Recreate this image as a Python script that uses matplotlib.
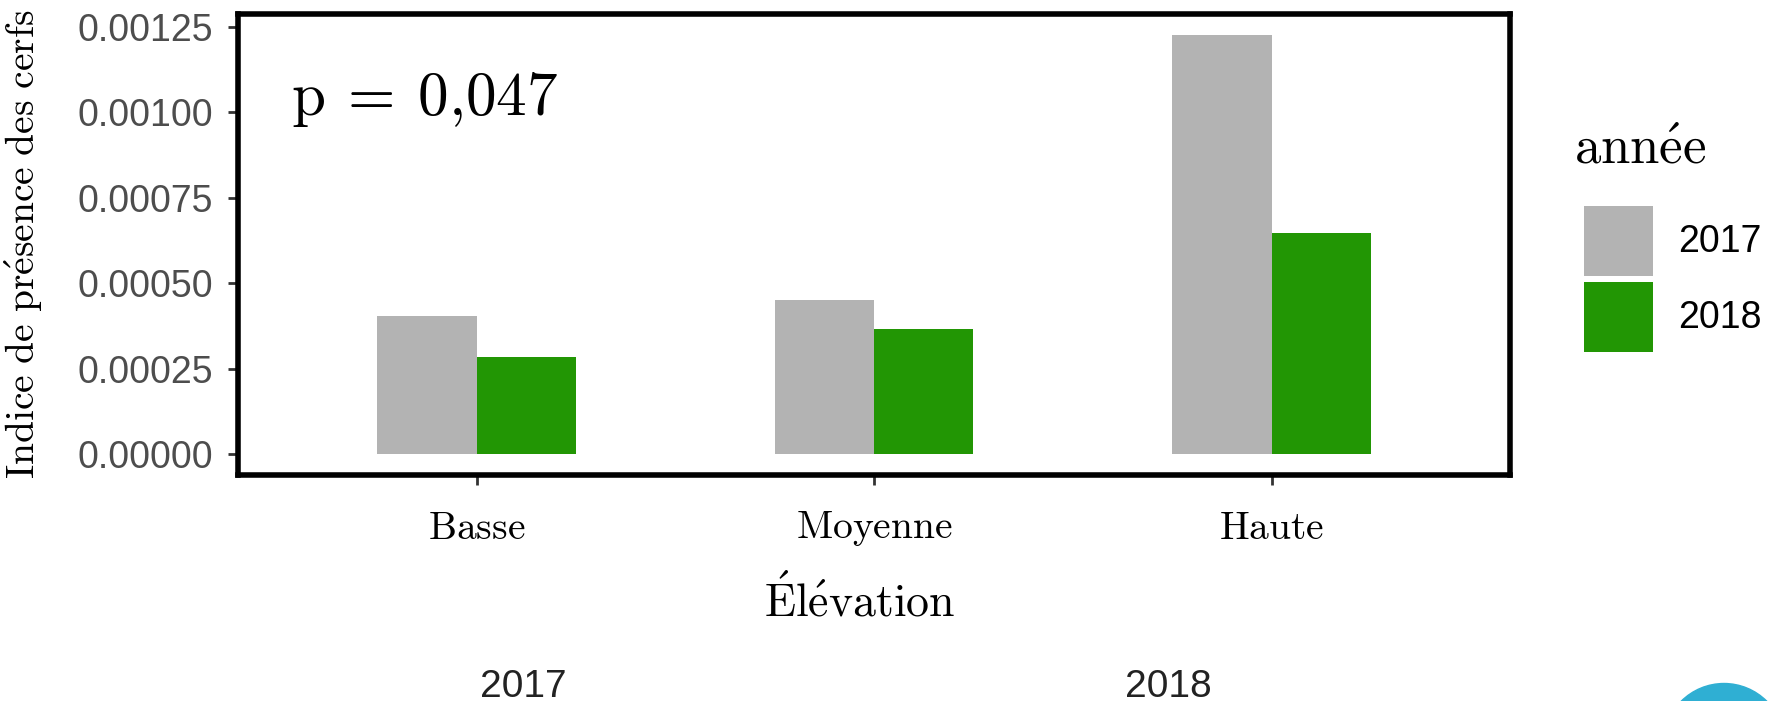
import numpy as np
import matplotlib
matplotlib.use("Agg")
from matplotlib import pyplot as plt
from matplotlib.patches import Ellipse

# values
elevations = [r"$\mathrm{Basse}$", r"$\mathrm{Moyenne}$", r"$\mathrm{Haute}$"]
years = ["2017", "2018"]
presence_2017 = [0.000404, 0.000451, 0.001227]
presence_2018 = [0.000285, 0.000366, 0.000648]
y_ticks = [0.0, 0.00025, 0.0005, 0.00075, 0.001, 0.00125]
y_tick_labels = ["0.00000", "0.00025", "0.00050", "0.00075", "0.00100", "0.00125"]
slide_years = ["2017", "2018"]

colors = {"2017": "#B3B3B3", "2018": "#229604"}

plt.rcParams["mathtext.fontset"] = "cm"
W, H = 1785, 701
fig = plt.figure(figsize=(W / 100, H / 100), dpi=100)
ax = fig.add_axes([238 / W, 1 - 475 / H, 1272 / W, 461 / H])

x = np.arange(len(elevations))
bar_w = 0.25
b17 = ax.bar(x - bar_w / 2, presence_2017, bar_w, color=colors["2017"], label="2017")
b18 = ax.bar(x + bar_w / 2, presence_2018, bar_w, color=colors["2018"], label="2018")

# ggplot-like expansion
top = max(presence_2017 + presence_2018)
ax.set_xlim(-0.6, len(elevations) - 0.4)
ax.set_ylim(-0.05 * top, 1.05 * top)

ax.set_xticks(x)
ax.set_xticklabels(elevations, fontsize=28.5, color="black")
ax.set_yticks(y_ticks)
ax.set_yticklabels(y_tick_labels, fontsize=27, color="#4D4D4D", family="Liberation Sans")
ax.tick_params(axis="both", length=7, width=2, color="#333333")
ax.tick_params(axis="y", pad=11)
ax.tick_params(axis="x", pad=17)

for s in ax.spines.values():
    s.set_linewidth(4)
    s.set_color("black")

ax.set_xlabel(r"$\mathrm{\acute{E}l\acute{e}vation}$", fontsize=33)
ax.xaxis.set_label_coords(0.489, -0.218)
ax.set_ylabel(r"$\mathrm{Indice\ de\ pr\acute{e}sence\ des\ cerfs}$", fontsize=28.5)
ax.yaxis.set_label_coords(-0.1517, 0.5)

ax.text(0.042, 0.781, r"$\mathrm{p}\:{=}\:0{,}047$", transform=ax.transAxes,
        fontsize=44, ha="left", va="baseline")

fig.text(1574 / W, 1 - 164 / H, r"$\mathrm{ann\acute{e}e}$", fontsize=38,
         ha="left", va="baseline")
ax.legend(handles=[b17, b18], labels=years, loc="upper left",
          bbox_to_anchor=(1584 / W, 1 - 206 / H), bbox_transform=fig.transFigure,
          frameon=False, prop={"family": "Liberation Sans", "size": 27},
          handlelength=1.84, handleheight=2.495, labelspacing=0.16,
          handletextpad=0.68, borderpad=0, borderaxespad=0)

# slide leftovers below the chart
for xp, lab in zip([523, 1168], slide_years):
    fig.text(xp / W, 1 - 697 / H, lab, fontsize=28, family="Liberation Sans",
             color="#222222", ha="center", va="baseline")
fig.add_artist(Ellipse((1724 / W, 1 - 744 / H), 121 / W, 121 / H,
                       transform=fig.transFigure, color="#2FAFD3", clip_on=False))

plt.savefig("out.png", dpi=100)
